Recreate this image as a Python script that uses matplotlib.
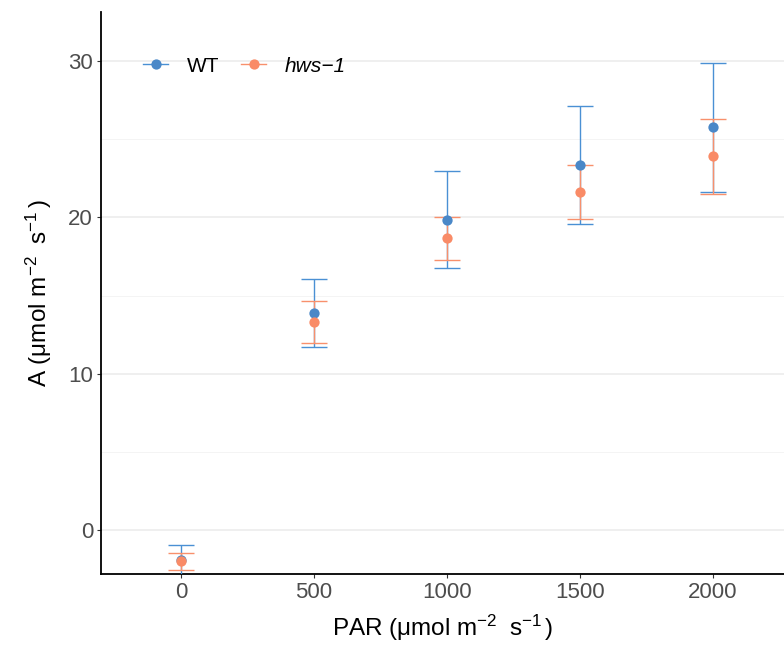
import matplotlib
matplotlib.use("Agg")
import matplotlib.pyplot as plt
from matplotlib.lines import Line2D
import numpy as np

plt.rcParams['font.family'] = ['Liberation Sans', 'DejaVu Sans']
plt.rcParams['mathtext.fontset'] = 'custom'
plt.rcParams['mathtext.rm'] = 'Liberation Sans'
plt.rcParams['mathtext.it'] = 'Liberation Sans:italic'

par = [0, 500, 1000, 1500, 2000]
wt_mean = [-1.95, 13.9, 19.86, 23.37, 25.77]
wt_err = [0.97, 2.17, 3.08, 3.77, 4.12]
hws_mean = [-2.0, 13.31, 18.67, 21.64, 23.9]
hws_err = [0.53, 1.33, 1.38, 1.72, 2.4]
series = ["WT", "hws\u22121"]
colors = ["#4A88C8", "#F98B67"]
err_colors = ["#4A90D4", "#F8906C"]

fig = plt.figure(figsize=(7.84, 6.46), dpi=100)
ax = fig.add_axes([101/784, (646-574)/646, (784-101)/784, (574-12)/646])

ax.set_xlim(-300.75, 2267)
ax.set_ylim(-2.815, 33.14)

for i, (m, e) in enumerate([(wt_mean, wt_err), (hws_mean, hws_err)]):
    ax.errorbar(par, m, yerr=e, fmt='none', ecolor=err_colors[i],
                elinewidth=1.0, capsize=0, zorder=3)
    for xv, mv, ev in zip(par, m, e):
        for yv in (mv - ev, mv + ev):
            ax.plot([xv - 50, xv + 50], [yv, yv], color=err_colors[i],
                    lw=1.0, zorder=3, solid_capstyle='butt')
    ax.plot(par, m, 'o', color=colors[i], markersize=7.4,
            markeredgewidth=0, zorder=4)

# grid
for yv in [0, 10, 20, 30]:
    ax.axhline(yv, color='#EBEBEB', lw=1.1, zorder=0)
for yv in [5, 15, 25]:
    ax.axhline(yv, color='#F3F3F3', lw=0.6, zorder=0)

ax.set_yticks([0, 10, 20, 30])
ax.set_xticks(par)
ax.set_xticklabels([str(p) for p in par])
ax.tick_params(axis='both', length=3.2, width=0.8, color='#333333',
               labelcolor='#4D4D4D', labelsize=16, pad=2.5)
for s in ['top', 'right']:
    ax.spines[s].set_visible(False)
for s in ['left', 'bottom']:
    ax.spines[s].set_linewidth(1.3)
    ax.spines[s].set_color('black')

unit = r'($\mathrm{\mu}$mol m$^{-2}\;$ s$^{-1}\,$)'
ax.set_xlabel('PAR ' + unit, fontsize=17.5, labelpad=7)
ax.set_ylabel('A ' + unit, fontsize=17.5, labelpad=10)

handles = [Line2D([0], [0], color=err_colors[i], lw=1.0, marker='o',
                  markerfacecolor=colors[i], markeredgewidth=0, markersize=7.4)
           for i in range(2)]
leg = fig.legend(handles, series, loc='center left',
                 bbox_to_anchor=(143/784, 1 - 66/646), bbox_transform=fig.transFigure,
                 ncol=2, frameon=False, fontsize=15, handlelength=1.2,
                 handletextpad=0.9, columnspacing=1.05, borderpad=0,
                 borderaxespad=0)
leg.get_texts()[1].set_fontstyle('italic')

fig.savefig("out.png", dpi=100)
